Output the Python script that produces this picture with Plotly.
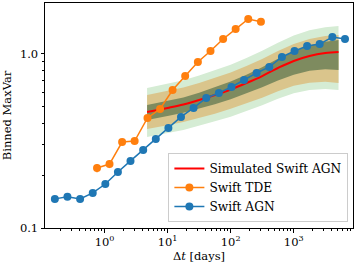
import plotly.graph_objects as go

# ---- data ----
agn_dt = [0.163, 0.258, 0.41, 0.65, 1.03, 1.63, 2.58, 4.1, 6.5, 10.3, 16.3, 25.8, 41.0, 65.0,
          103, 163, 258, 410, 650, 1030, 1630, 2580, 4100, 6500]
agn_mv = [0.147, 0.151, 0.147, 0.159, 0.179, 0.210, 0.243, 0.281, 0.325, 0.376, 0.435, 0.490,
          0.559, 0.597, 0.646, 0.709, 0.778, 0.842, 0.961, 1.04, 1.11, 1.14, 1.25, 1.22]
agn_err = [0.004] * 24

tde_dt = [0.76, 1.2, 1.9, 3.0, 4.8, 7.6, 12.0, 19.0, 30.2, 47.9, 75.9, 120, 190, 302]
tde_mv = [0.221, 0.233, 0.312, 0.316, 0.429, 0.483, 0.621, 0.747, 0.899, 1.04, 1.22, 1.39, 1.59, 1.53]
tde_err = [0.012, 0.012, 0.01, 0.01, 0.008, 0.008, 0.006, 0.006, 0.006, 0.006, 0.006, 0.006, 0.006, 0.006]

sim_dt = [4.73, 10, 17.8, 31.6, 56.2, 100, 178, 316, 562, 1000, 1778, 3162, 5129]
sim_mv = [0.464, 0.490, 0.513, 0.544, 0.581, 0.625, 0.681, 0.747, 0.831, 0.912, 0.974, 1.013, 1.027]
sim_hi3 = [0.638, 0.674, 0.707, 0.752, 0.806, 0.868, 0.948, 1.043, 1.161, 1.277, 1.369, 1.426, 1.448]
sim_lo3 = [0.333, 0.351, 0.366, 0.387, 0.410, 0.436, 0.469, 0.507, 0.553, 0.594, 0.621, 0.630, 0.621]
sim_hi2 = [0.581, 0.613, 0.642, 0.681, 0.728, 0.783, 0.853, 0.936, 1.040, 1.142, 1.219, 1.269, 1.286]
sim_lo2 = [0.371, 0.390, 0.407, 0.429, 0.454, 0.484, 0.519, 0.560, 0.611, 0.656, 0.684, 0.692, 0.681]
sim_hi1 = [0.509, 0.537, 0.563, 0.599, 0.643, 0.694, 0.760, 0.839, 0.938, 1.038, 1.119, 1.175, 1.204]
sim_lo1 = [0.418, 0.440, 0.459, 0.486, 0.515, 0.550, 0.593, 0.643, 0.705, 0.761, 0.800, 0.816, 0.809]

x_tick_vals = [1, 10, 100, 1000]
x_tick_text = ["10<sup>0</sup>", "10<sup>1</sup>", "10<sup>2</sup>", "10<sup>3</sup>"]
y_tick_vals = [0.1, 1.0]
y_tick_text = ["0.1", "1.0"]

FONT = "DejaVu Serif"

fig = go.Figure()

band_colors = ["#d5ecd4", "#dac58c", "#7e8b5f"]
for hi, lo, col in [(sim_hi3, sim_lo3, band_colors[0]),
                    (sim_hi2, sim_lo2, band_colors[1]),
                    (sim_hi1, sim_lo1, band_colors[2])]:
    fig.add_trace(go.Scatter(
        x=sim_dt + sim_dt[::-1], y=hi + lo[::-1],
        fill="toself", fillcolor=col, mode="lines", line=dict(width=0, color=col),
        showlegend=False, hoverinfo="skip"))

fig.add_trace(go.Scatter(
    x=sim_dt, y=sim_mv, mode="lines", name="Simulated Swift AGN",
    line=dict(color="#ff0000", width=2, shape="spline")))

fig.add_trace(go.Scatter(
    x=tde_dt, y=tde_mv, mode="lines+markers", name="Swift TDE",
    line=dict(color="#ff7f0e", width=1.5),
    marker=dict(color="#ff7f0e", size=8),
    error_y=dict(type="data", array=tde_err, color="#ff7f0e", thickness=1.5, width=0)))

fig.add_trace(go.Scatter(
    x=agn_dt, y=agn_mv, mode="lines+markers", name="Swift AGN",
    line=dict(color="#1f77b4", width=1.5),
    marker=dict(color="#1f77b4", size=8),
    error_y=dict(type="data", array=agn_err, color="#1f77b4", thickness=1.5, width=0)))

x_minor = [m * 10 ** e for e in range(-1, 4) for m in range(2, 10)]
y_minor = [0.2, 0.3, 0.4, 0.5, 0.6, 0.7, 0.8, 0.9, 2.0]

fig.update_layout(
    width=357, height=268,
    margin=dict(l=45, r=4, t=3, b=40),
    paper_bgcolor="white", plot_bgcolor="white",
    font=dict(family=FONT, size=11, color="black"),
    showlegend=True,
    legend=dict(x=0.985, xanchor="right", y=0.027, yanchor="bottom",
                bordercolor="#cccccc", borderwidth=1, bgcolor="rgba(255,255,255,0.85)",
                font=dict(family=FONT, size=12.2), itemwidth=30, tracegroupgap=0),
)

fig.update_xaxes(
    type="log", range=[-0.944, 3.94], automargin=False,
    showline=True, linecolor="black", linewidth=1, mirror=True,
    ticks="outside", ticklen=3.5, tickwidth=0.8, tickcolor="black",
    tickvals=x_tick_vals, ticktext=x_tick_text, showgrid=False, zeroline=False,
    minor=dict(tickvals=x_minor, ticks="outside", ticklen=2, tickwidth=0.6, tickcolor="black", showgrid=False),
    tickfont=dict(family=FONT, size=11.5),
    title=dict(text="Δ<i>t</i> [days]", font=dict(family=FONT, size=11.5), standoff=3),
)
fig.update_yaxes(
    type="log", range=[-1.0, 0.293], automargin=False,
    showline=True, linecolor="black", linewidth=1, mirror=True,
    ticks="outside", ticklen=3.5, tickwidth=0.8, tickcolor="black",
    tickvals=y_tick_vals, ticktext=y_tick_text, showgrid=False, zeroline=False,
    minor=dict(tickvals=y_minor, ticks="outside", ticklen=2, tickwidth=0.6, tickcolor="black", showgrid=False),
    tickfont=dict(family=FONT, size=11.5),
    title=dict(text="Binned MaxVar", font=dict(family=FONT, size=11.5), standoff=6),
)

fig.write_html("out.html", config={"displayModeBar": False},
               post_script="document.body.style.margin='0';document.body.style.overflow='hidden';")
